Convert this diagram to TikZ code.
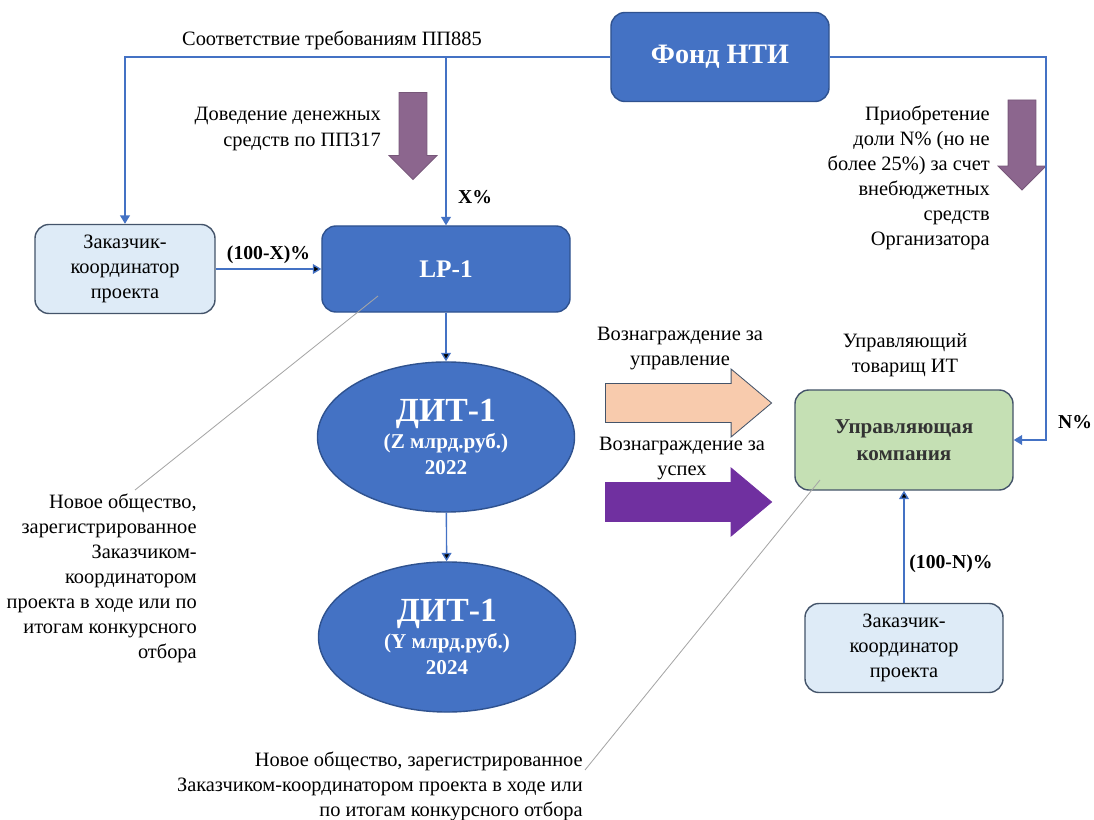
\documentclass[tikz,border=0pt]{standalone}
\usepackage{fontspec}
\setmainfont{Liberation Serif}
\usetikzlibrary{shapes.geometric,shapes.arrows,arrows.meta,positioning}

\definecolor{nodeblue}{RGB}{68,114,196}
\definecolor{edgeblue}{RGB}{47,82,143}
\definecolor{paleblue}{RGB}{222,235,247}
\definecolor{palegreen}{RGB}{197,224,180}
\definecolor{peach}{RGB}{248,203,173}
\definecolor{plum}{RGB}{140,102,142}
\definecolor{violet}{RGB}{112,48,160}
\definecolor{slate}{RGB}{68,84,106}

\tikzset{
  bluebox/.style={draw=edgeblue, line width=1pt, fill=nodeblue, rounded corners=10pt, text=white, font=\bfseries\fontsize{18}{22}\selectfont},
  palebox/.style={draw=slate, line width=1pt, fill=paleblue, rounded corners=10pt, align=center, font=\fontsize{14.5}{17.8}\selectfont},
  greenbox/.style={draw=slate, line width=1pt, fill=palegreen, rounded corners=10pt, align=center, text=black!80, font=\bfseries\fontsize{15}{19}\selectfont},
  fundoval/.style={ellipse, draw=edgeblue, line width=1pt, fill=nodeblue, text=white, align=center, inner sep=0pt, minimum width=6.425cm, minimum height=3.75cm, font=\bfseries\fontsize{15}{19}\selectfont},
  link/.style={draw=nodeblue, line width=1pt, -{Triangle[width=7pt,length=6pt]}},
  leader/.style={draw=gray!70, line width=0.6pt},
  note/.style={inner sep=0pt, font=\fontsize{14.5}{17.8}\selectfont},
  share/.style={font=\bfseries\fontsize{14}{17}\selectfont},
  wide/.style={single arrow, draw=slate, line width=0.6pt, inner xsep=0pt, inner ysep=0.475cm, minimum height=4.15cm, minimum width=1.675cm, single arrow head extend=0.3625cm, single arrow tip angle=80},
  drop/.style={single arrow, rotate=-90, fill=plum, draw=plum!85!black, line width=0.6pt, inner xsep=0pt, inner ysep=0.3375cm, minimum width=1.175cm, single arrow head extend=0.25cm}
}

\begin{document}
\begin{tikzpicture}[x=0.025cm, y=-0.025cm]
\useasboundingbox (0,0) rectangle (1094,820);

% boxes
\node[bluebox, minimum width=5.45cm, minimum height=2.225cm, font=\bfseries\fontsize{20}{24}\selectfont] (fond) at (720,57) {Фонд НТИ};
\node[palebox, minimum width=4.5cm, minimum height=2.225cm] (client) at (125,269) {Заказчик-\\координатор\\проекта};
\node[bluebox, minimum width=6.2cm, minimum height=2.15cm] (lp) at (446,269) {LP-1};
\node[fundoval] (dit1) at (446,437) {{\fontsize{24}{27}\selectfont ДИТ-1}\\(Z млрд.руб.)\\2022};
\node[fundoval] (dit2) at (447,637) {{\fontsize{24}{27}\selectfont ДИТ-1}\\(Y млрд.руб.)\\2024};
\node[greenbox, minimum width=5.45cm, minimum height=2.5cm] (uk) at (904,440) {Управляющая\\компания};
\node[palebox, minimum width=4.95cm, minimum height=2.225cm] (client2) at (904,648) {Заказчик-\\координатор\\проекта};

% block arrows
\node[drop, minimum height=2.175cm] (flow1) at (413,129) {};
\node[drop, minimum height=2.25cm] (flow2) at (1022,138) {};
\node[wide, fill=peach] (pay1) at (677,403) {};
\node[wide, fill=violet, draw=violet] (pay2) at (677,502) {};

% texts
\node[note] (req) at (332,40) {Соответствие требованиям ПП885};
\node[note, align=right, anchor=east] (money) at (381,129) {Доведение денежных\\средств по ПП317};
\node[note, align=right, anchor=east] (stake) at (990,178) {Приобретение\\доли N\% (но не\\более 25\%) за счет\\внебюджетных\\средств\\Организатора};
\node[note, align=center] (fee1) at (680,349) {Вознаграждение за\\управление};
\node[note, align=center] (fee2) at (682,459) {Вознаграждение за\\успех};
\node[note, align=center] (gp) at (905,355) {Управляющий\\товарищ ИТ};
\node[note, align=right, anchor=east] (note1) at (197,578) {Новое общество,\\зарегистрированное\\Заказчиком-\\координатором\\проекта в ходе или по\\итогам конкурсного\\отбора};
\node[note, align=right, anchor=east] (note2) at (583,786) {Новое общество, зарегистрированное\\Заказчиком-координатором проекта в ходе или\\по итогам конкурсного отбора};
\node[share] (xpct) at (475,197) {X\%};
\node[share] (npct) at (1075,422) {N\%};

% connectors
\coordinate (bend) at (1046,440);
\draw[link] (fond.west) -| (client.north);
\draw[link] (fond.west) -| (lp.north);
\draw[link] (fond.east) -| (bend) -- (uk.east);
\path[link]
  (client) edge node[share, above] {(100-X)\%} (lp)
  (lp) edge (dit1)
  (dit1) edge (dit2)
  (client2) edge node[share, right, pos=0.35] {(100-N)\%} (uk);

% leader lines
\coordinate (lpfoot) at (378,296);
\coordinate (note1top) at (135,490);
\coordinate (ukfoot) at (820,480);
\coordinate (note2top) at (585,770);
\draw[leader] (lpfoot) -- (note1top);
\draw[leader] (ukfoot) -- (note2top);
\end{tikzpicture}
\end{document}
